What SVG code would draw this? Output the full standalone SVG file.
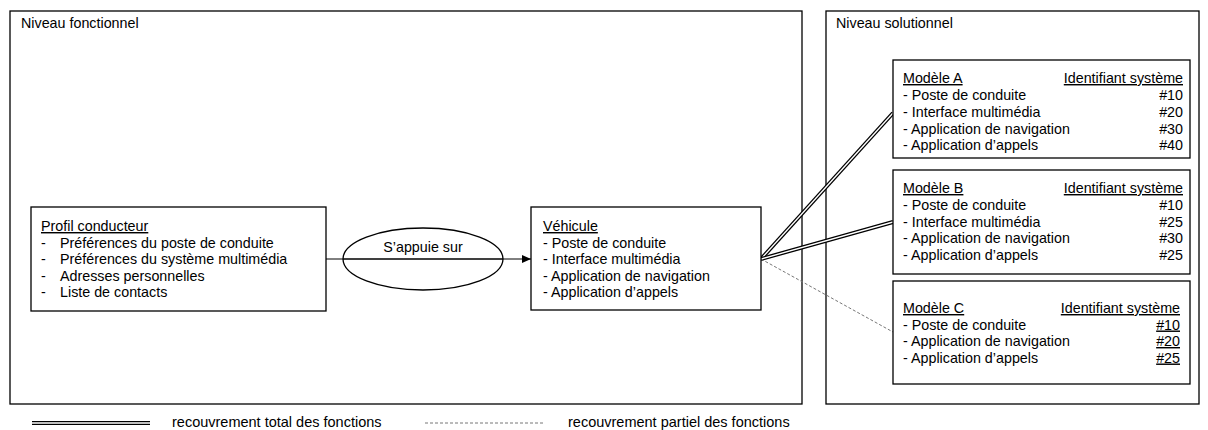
<svg xmlns="http://www.w3.org/2000/svg" width="1208" height="430" viewBox="0 0 1208 430">
<defs>
<style>
text{font-family:"Liberation Sans",Arial,sans-serif;font-size:14.3px;fill:#000}
.box{fill:#fff;stroke:#000;stroke-width:1.3}
.frame{fill:none;stroke:#000;stroke-width:1.3}
.u{text-decoration:underline}
.r{text-anchor:end}
.dbl-out{stroke:#000;stroke-width:4;fill:none}
.dbl-in{stroke:#fff;stroke-width:1.4;fill:none}
.dash{stroke:#777;stroke-width:1;stroke-dasharray:3 2;fill:none}
.leg{font-size:14.5px}
</style>
<marker id="arr" markerWidth="10" markerHeight="8" refX="9" refY="4" orient="auto" markerUnits="userSpaceOnUse">
<path d="M0,0 L9,4 L0,8 Z" fill="#000"/>
</marker>
</defs>
<rect width="1208" height="430" fill="#fff"/>
<g id="frame-fonctionnel">
<rect class="frame" x="10" y="11" width="792" height="393"/>
<text x="21" y="28">Niveau fonctionnel</text>
</g>
<g id="frame-solutionnel">
<rect class="frame" x="826" y="11" width="373" height="393"/>
<text x="836" y="28">Niveau solutionnel</text>
</g>
<g id="connectors">
<line x1="326" y1="259" x2="531" y2="259" stroke="#000" stroke-width="1" marker-end="url(#arr)"/>
<line class="dbl-out" x1="761" y1="259" x2="893" y2="113"/>
<line class="dbl-in" x1="761" y1="259" x2="893" y2="113"/>
<line class="dbl-out" x1="761" y1="259" x2="893" y2="222"/>
<line class="dbl-in" x1="761" y1="259" x2="893" y2="222"/>
<line class="dash" x1="761" y1="259" x2="893" y2="332"/>
</g>
<g id="profil">
<rect class="box" x="31" y="207" width="295" height="104"/>
<text x="41" y="231" class="u">Profil conducteur</text>
<text x="41" y="247.5">-</text><text x="60" y="247.5">Préférences du poste de conduite</text>
<text x="41" y="264">-</text><text x="60" y="264">Préférences du système multimédia</text>
<text x="41" y="280.5">-</text><text x="60" y="280.5">Adresses personnelles</text>
<text x="41" y="297">-</text><text x="60" y="297">Liste de contacts</text>
</g>
<g id="appuie">
<ellipse cx="423" cy="259" rx="80" ry="31" fill="none" stroke="#000" stroke-width="1.3"/>
<line x1="343" y1="259" x2="503" y2="259" stroke="#000" stroke-width="1"/>
<text x="423" y="252" text-anchor="middle">S’appuie sur</text>
</g>
<g id="vehicule">
<rect class="box" x="531" y="207" width="230" height="103"/>
<text x="543" y="231" class="u">Véhicule</text>
<text x="543" y="247.5">- Poste de conduite</text>
<text x="543" y="264">- Interface multimédia</text>
<text x="543" y="280.5">- Application de navigation</text>
<text x="543" y="297">- Application d’appels</text>
</g>
<g id="modele-a">
<rect class="box" x="893" y="60" width="297" height="98"/>
<text x="903" y="83" class="u">Modèle A</text>
<text x="1183" y="83" class="u r">Identifiant système</text>
<text x="903" y="100">- Poste de conduite</text><text x="1183" y="100" class="r">#10</text>
<text x="903" y="117">- Interface multimédia</text><text x="1183" y="117" class="r">#20</text>
<text x="903" y="133.5">- Application de navigation</text><text x="1183" y="133.5" class="r">#30</text>
<text x="903" y="150">- Application d’appels</text><text x="1183" y="150" class="r">#40</text>
</g>
<g id="modele-b">
<rect class="box" x="893" y="170" width="297" height="104"/>
<text x="903" y="193" class="u">Modèle B</text>
<text x="1183" y="193" class="u r">Identifiant système</text>
<text x="903" y="210">- Poste de conduite</text><text x="1183" y="210" class="r">#10</text>
<text x="903" y="226.5">- Interface multimédia</text><text x="1183" y="226.5" class="r">#25</text>
<text x="903" y="243">- Application de navigation</text><text x="1183" y="243" class="r">#30</text>
<text x="903" y="260">- Application d’appels</text><text x="1183" y="260" class="r">#25</text>
</g>
<g id="modele-c">
<rect class="box" x="893" y="281" width="297" height="103"/>
<text x="903" y="313" class="u">Modèle C</text>
<text x="1180" y="313" class="u r">Identifiant système</text>
<text x="903" y="329.5">- Poste de conduite</text><text x="1180" y="329.5" class="u r">#10</text>
<text x="903" y="346">- Application de navigation</text><text x="1180" y="346" class="u r">#20</text>
<text x="903" y="362.5">- Application d’appels</text><text x="1180" y="362.5" class="u r">#25</text>
</g>
<g id="legende">
<line class="dbl-out" x1="32" y1="423" x2="150" y2="423"/>
<line class="dbl-in" x1="32" y1="423" x2="150" y2="423"/>
<text x="172" y="427" class="leg">recouvrement total des fonctions</text>
<line class="dash" x1="425" y1="423" x2="543" y2="423"/>
<text x="568" y="427" class="leg">recouvrement partiel des fonctions</text>
</g>
</svg>
